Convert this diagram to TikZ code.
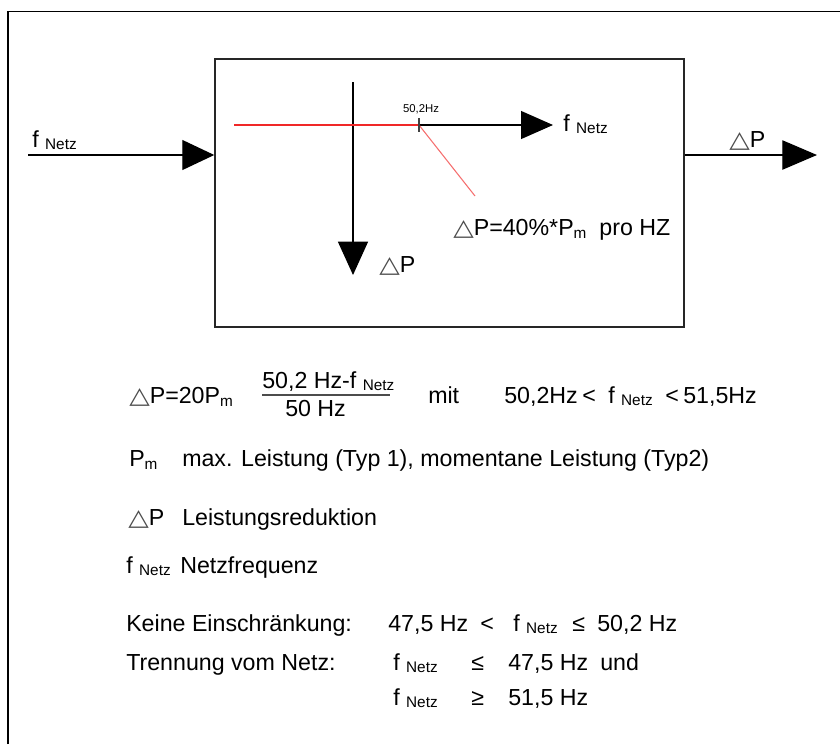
\documentclass[tikz,border=0pt]{standalone}
\usepackage{fontspec}
\setmainfont{Liberation Sans}
\newfontfamily\symfont{DejaVu Sans}
\usetikzlibrary{arrows.meta}
\definecolor{axisred}{RGB}{240,40,40}
\definecolor{slopered}{RGB}{245,110,110}
\newcommand{\tri}{{\symfont\color{black!70}\scalebox{1.15}[1]{△}}}
\newcommand{\netz}{\raisebox{-2pt}{\fontsize{11.5}{13}\selectfont Netz}}
\newcommand{\msub}{\raisebox{-2.5pt}{\fontsize{11.5}{13}\selectfont m}}
\begin{document}
\begin{tikzpicture}[x=0.75pt,y=-0.75pt,
  txt/.style={font=\fontsize{17.4}{20}\selectfont, inner sep=0pt, anchor=base west},
  redline/.style={axisred, line width=0.8pt},
  slopeline/.style={slopered, line width=0.8pt}]
\useasboundingbox (0,0) rectangle (840,744);
% outer frame
\draw[line width=1.1pt] (8,744) -- (8,11.5) -- (840,11.5);
% block
\node[draw=black!85, line width=1.1pt, minimum width=351.75pt, minimum height=201pt, inner sep=0pt] (box) at (449.5,193) {};
% input / output
\coordinate (in) at (28,155);
\coordinate (out) at (817,155);
\draw[line width=0.9pt, -{Triangle[length=24pt,width=22.5pt]}] (in) -- (in -| box.west);
\draw[line width=0.9pt, -{Triangle[length=26pt,width=22pt]}] (box.east |- out) -- (out);
\node[txt] (lin) at (32,147) {f \netz};
\node[txt] (lout) at (729,147) {\tri P};
% inner axes
\coordinate (vtop) at (353,82);
\coordinate (vbot) at (353,275);
\draw[line width=0.9pt, -{Triangle[length=25pt,width=22.5pt]}] (vtop) -- (vbot);
\coordinate (hl) at (234,125);
\coordinate (tick) at (419,125);
\coordinate (hr) at (553,125);
\coordinate (tickt) at (419,118);
\coordinate (tickb) at (419,132);
\coordinate (slopeend) at (475,196);
\draw[line width=0.9pt, -{Triangle[length=24pt,width=21pt]}] (tick) -- (hr);
\draw[redline] (hl) -- (tick);
\draw[slopeline] (tick) -- (slopeend);
\draw[line width=0.8pt, black!75] (tickt) -- (tickb);
\node[font=\fontsize{8.5}{10}\selectfont, inner sep=0pt, anchor=base] (l502) at (421,112.5) {50,2Hz};
\node[txt] (lfn) at (563,131) {f \netz};
\node[txt] (lslope) at (453,235) {\tri P=40\%*P\msub\ \ pro HZ};
\node[txt] (ldp) at (379,272) {\tri P};
% formula
\node[txt] (f1) at (129,403) {\tri P=20P\msub};
\node[txt] (num) at (262,388) {50,2 Hz-f \netz};
\node[txt] (den) at (285,416) {50 Hz};
\coordinate (barl) at (262,395);
\coordinate (barr) at (390,395);
\draw[line width=0.8pt, black!70] (barl) -- (barr);
\node[txt] (mit) at (428,403) {mit};
\node[txt] (r1) at (504,403) {50,2Hz};
\node[txt] (r2) at (582,403) {<};
\node[txt] (r3) at (608,403) {f \netz};
\node[txt] (r4) at (665,403) {<};
\node[txt] (r5) at (683,403) {51,5Hz};
% legend
\node[txt] (pm) at (129,466) {P\msub};
\node[txt] (pmt) at (182,466) {max. Leistung (Typ 1), momentane Leistung (Typ2)};
\node[txt] (dp) at (128,525) {\tri P};
\node[txt] (dpt) at (182,525) {Leistungsreduktion};
\node[txt] (fn) at (126,573) {f \netz};
\node[txt] (fnt) at (180,573) {Netzfrequenz};
\node[txt] (ke) at (126,631) {Keine Einschränkung:};
\node[txt] (k1) at (388,631) {47,5 Hz};
\node[txt] (k2) at (480,631) {<};
\node[txt] (k3) at (513,631) {f \netz};
\node[txt] (k4) at (572,631) {≤};
\node[txt] (k5) at (597,631) {50,2 Hz};
\node[txt] (tr) at (126,670) {Trennung vom Netz:};
\node[txt] (t1) at (393,670) {f \netz};
\node[txt] (t2) at (471,670) {≤};
\node[txt] (t3) at (508,670) {47,5 Hz};
\node[txt] (t4) at (600,670) {und};
\node[txt] (u1) at (393,705) {f \netz};
\node[txt] (u2) at (471,705) {≥};
\node[txt] (u3) at (508,705) {51,5 Hz};
\end{tikzpicture}
\end{document}
